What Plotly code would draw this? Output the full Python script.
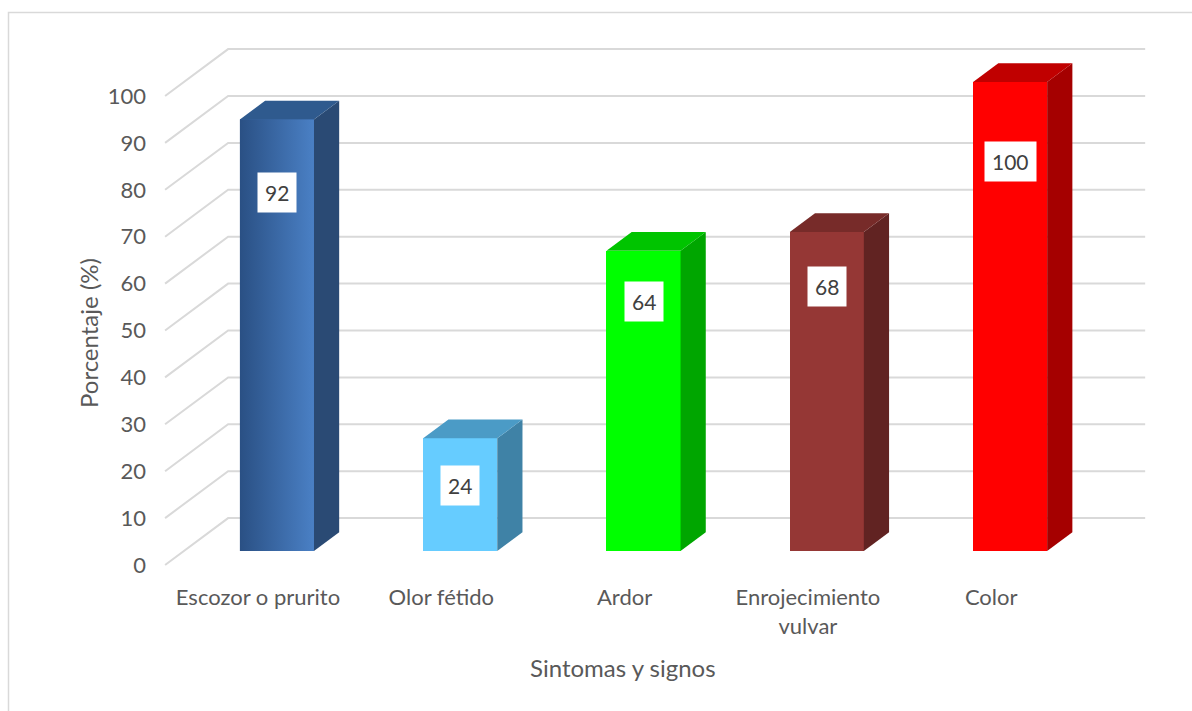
import plotly.graph_objects as go

# Data
categories = ["Escozor o prurito", "Olor fétido", "Ardor", "Enrojecimiento vulvar", "Color"]
tick_text = ["Escozor o prurito", "Olor fétido", "Ardor", "Enrojecimiento<br>vulvar", "Color"]
percentages = [92, 24, 64, 68, 100]
y_ticks = list(range(0, 101, 10))

# Face colours of each column (front, right side, top)
front_colors = ["#3a69a8", "#66ccff", "#00ff00", "#953735", "#ff0000"]
side_colors = ["#2a4a74", "#3f82a6", "#00a600", "#612322", "#a50000"]
top_colors = ["#2f5a8e", "#4b9bc6", "#00c400", "#772b29", "#c00000"]
first_gradient = [[0, "#2a5084"], [1, "#4a80c5"]]

FONT = "Lato"
TEXT = "#595959"
GRID = "#d9d9d9"

# Oblique projection of the depth axis (x units, y units)
DX, DY = 0.344, 10.0
D_FRONT, D_BACK = 0.3, 0.7      # depth slice occupied by the columns
HALF_W = 0.202                  # half width of a column face
X_WALL = -0.507                 # front edge of the side wall
X_END = 4.84                    # right end of the back wall

fig = go.Figure()

# Front faces of the columns, shifted to their depth position
x_front = [i + D_FRONT * DX for i in range(len(categories))]
base = D_FRONT * DY
fig.add_trace(go.Bar(
    x=x_front, y=percentages, base=[base] * len(percentages),
    width=2 * HALF_W, marker=dict(color=front_colors, line=dict(width=0)),
    hoverinfo="skip", showlegend=False,
))

# Side and top faces
depth_dx = (D_BACK - D_FRONT) * DX
depth_dy = (D_BACK - D_FRONT) * DY
for i, v in enumerate(percentages):
    xl, xr = x_front[i] - HALF_W, x_front[i] + HALF_W
    top = v + base
    fig.add_trace(go.Scatter(
        x=[xr, xr, xr + depth_dx, xr + depth_dx, xr],
        y=[base, top, top + depth_dy, base + depth_dy, base],
        fill="toself", fillcolor=side_colors[i], mode="lines",
        line=dict(width=0), hoverinfo="skip", showlegend=False,
    ))
    fig.add_trace(go.Scatter(
        x=[xl, xr, xr + depth_dx, xl + depth_dx, xl],
        y=[top, top, top + depth_dy, top + depth_dy, top],
        fill="toself", fillcolor=top_colors[i], mode="lines",
        line=dict(width=0), hoverinfo="skip", showlegend=False,
    ))

# Shaded front of the first column
xl, xr = x_front[0] - HALF_W, x_front[0] + HALF_W
fig.add_trace(go.Scatter(
    x=[xl, xr, xr, xl, xl],
    y=[base, base, percentages[0] + base, percentages[0] + base, base],
    fill="toself", mode="lines", line=dict(width=0),
    fillgradient=dict(type="horizontal", colorscale=first_gradient),
    hoverinfo="skip", showlegend=False,
))

# Gridlines on the side wall and back wall
shapes = []
for t in y_ticks:
    shapes.append(dict(
        type="path", xref="x", yref="y", layer="below",
        path=f"M {X_WALL},{t} L {X_WALL + DX},{t + DY} L {X_END},{t + DY}",
        line=dict(color=GRID, width=2),
    ))

# Chart frame
L, R, T, B = 160, 32, 20, 136
W, H = 1192, 711
pw, ph = W - L - R, H - T - B
def px(x):
    return (x - L) / pw
def py(y):
    return (H - B - y) / ph
shapes.append(dict(type="path", xref="paper", yref="paper", layer="below",
                   path=f"M {px(8.5)},{py(711)} L {px(8.5)},{py(12.5)} L {px(1192)},{py(12.5)}",
                   line=dict(color=GRID, width=1.5)))

# Value labels
annotations = []
for i, v in enumerate(percentages):
    annotations.append(dict(
        x=x_front[i], y=min(0.83 * v, v - 10) + base, xref="x", yref="y",
        text=str(v), showarrow=False, bgcolor="white", borderpad=7,
        font=dict(family=FONT, size=21, color="#404040"),
    ))

# Axis titles
annotations.append(dict(x=px(623), y=py(667), xref="paper", yref="paper",
                        xanchor="center", yanchor="middle",
                        text="Sintomas y signos", showarrow=False,
                        font=dict(family=FONT, size=24, color=TEXT)))
annotations.append(dict(x=px(88), y=py(333), xref="paper", yref="paper",
                        xanchor="center", yanchor="middle",
                        text="Porcentaje (%)", showarrow=False, textangle=-90,
                        font=dict(family=FONT, size=24, color=TEXT)))

fig.update_layout(
    width=W, height=H,
    margin=dict(l=L, r=R, t=T, b=B),
    paper_bgcolor="white", plot_bgcolor="white",
    font=dict(family=FONT, size=22, color=TEXT),
    shapes=shapes, annotations=annotations,
    xaxis=dict(range=[(L - 258) / 183.3, (W - R - 258) / 183.3],
               tickvals=list(range(len(categories))), ticktext=tick_text,
               showgrid=False, zeroline=False, showline=False, ticks="",
               ticklabelstandoff=7, tickfont=dict(family=FONT, size=22, color=TEXT)),
    yaxis=dict(range=[(565 - (H - B)) / 4.69, (565 - T) / 4.69],
               tickvals=y_ticks, showgrid=False, zeroline=False, showline=False,
               ticks="", ticklabelstandoff=13,
               tickfont=dict(family=FONT, size=22, color=TEXT)),
    bargap=0,
)

fig.write_html("out.html")
